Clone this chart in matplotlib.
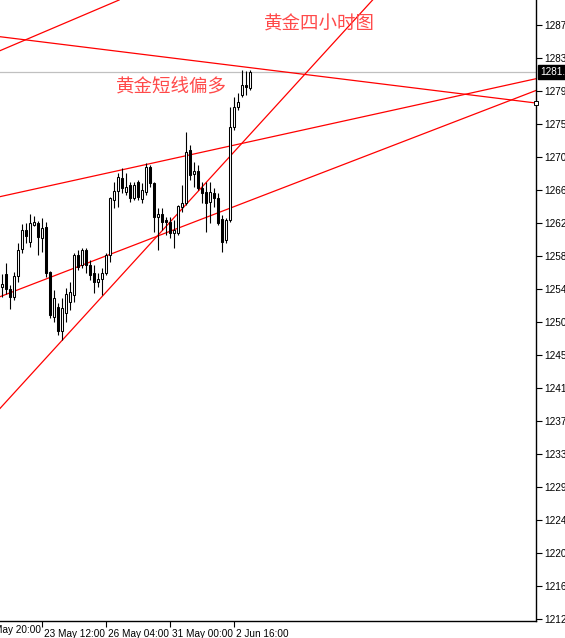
import matplotlib
matplotlib.use('Agg')
import numpy as np
import matplotlib.pyplot as plt
import matplotlib.transforms as mtransforms
from matplotlib.patches import Rectangle

# 4H gold candles (one bar every 4 hours)
opens = [1254.48, 1256.13, 1254.22, 1253.21, 1255.87, 1259.29, 1261.70, 1260.18, 1262.33, 1262.59,
         1260.68, 1262.08, 1256.38, 1250.68, 1251.95, 1248.91, 1251.19, 1252.58, 1253.47, 1258.53,
         1257.27, 1259.16, 1257.27, 1256.25, 1255.11, 1255.49, 1256.25, 1258.53, 1265.50, 1266.64,
         1268.28, 1266.51, 1267.40, 1265.75, 1267.78, 1265.62, 1266.51, 1269.68, 1267.65, 1263.35,
         1263.72, 1262.96, 1262.71, 1261.31, 1261.31, 1264.61, 1265.12, 1271.83, 1268.79, 1269.17,
         1267.02, 1266.51, 1265.24, 1266.38, 1265.75, 1263.09, 1260.43, 1262.96, 1274.74, 1277.28,
         1278.80, 1280.06, 1279.68]
highs = [1256.13, 1257.52, 1254.73, 1256.38, 1260.05, 1262.46, 1262.58, 1263.72, 1263.47, 1262.84,
         1263.22, 1262.71, 1256.50, 1254.10, 1252.45, 1253.09, 1254.35, 1255.11, 1258.79, 1259.16,
         1259.42, 1259.42, 1257.90, 1257.27, 1256.25, 1256.89, 1258.79, 1265.88, 1267.78, 1268.92,
         1269.55, 1268.92, 1267.78, 1267.78, 1268.03, 1267.65, 1270.18, 1269.93, 1267.78, 1264.48,
         1264.48, 1263.35, 1263.35, 1262.96, 1264.86, 1267.40, 1274.11, 1272.46, 1270.31, 1269.93,
         1267.78, 1267.78, 1267.78, 1267.02, 1266.38, 1263.60, 1263.22, 1277.28, 1278.54, 1279.05,
         1281.96, 1281.84, 1281.96]
lows = [1253.21, 1253.59, 1251.69, 1252.83, 1255.11, 1258.79, 1260.05, 1259.55, 1262.20, 1258.53,
        1258.91, 1255.75, 1250.55, 1250.05, 1248.40, 1247.77, 1250.05, 1251.57, 1252.58, 1256.63,
        1256.89, 1256.25, 1255.37, 1253.72, 1254.48, 1253.47, 1256.00, 1257.65, 1264.48, 1264.61,
        1266.38, 1266.13, 1265.24, 1265.50, 1265.50, 1265.12, 1266.13, 1267.14, 1261.44, 1259.16,
        1261.70, 1261.06, 1260.68, 1259.42, 1261.06, 1263.97, 1264.86, 1268.03, 1267.14, 1266.76,
        1265.12, 1261.44, 1262.59, 1264.61, 1262.33, 1258.91, 1260.05, 1262.71, 1274.36, 1276.90,
        1278.54, 1278.80, 1279.43]
closes = [1254.86, 1254.22, 1253.21, 1255.87, 1259.16, 1261.70, 1260.94, 1262.59, 1262.71, 1260.81,
          1261.95, 1256.25, 1250.93, 1253.09, 1248.91, 1251.82, 1253.59, 1253.85, 1258.53, 1257.01,
          1259.16, 1257.27, 1256.00, 1255.11, 1255.49, 1256.25, 1258.53, 1265.75, 1266.64, 1268.41,
          1267.02, 1267.14, 1265.75, 1267.40, 1265.88, 1266.76, 1269.68, 1267.65, 1263.35, 1263.72,
          1262.71, 1262.71, 1261.31, 1261.70, 1264.73, 1265.12, 1271.57, 1268.66, 1269.17, 1267.02,
          1266.38, 1265.12, 1266.51, 1265.75, 1262.59, 1260.18, 1262.96, 1274.74, 1277.28, 1277.91,
          1280.06, 1279.81, 1281.71]

last_price = 1281.71

# trend lines drawn on the chart: (bar, price) -> (bar, price)
trend_lines = [
    ((-0.575, 1284.41), (24.425, 1289.80)),
    ((-0.575, 1286.18), (133.425, 1277.78)),
    ((24.425, 1252.98), (74.425, 1280.75)),
    ((-0.575, 1265.92), (133.425, 1280.86)),
    ((-0.575, 1253.25), (133.425, 1279.37)),
]

price_ticks = [1287.66 - 4.18 * k for k in range(19)]
time_bars = [-6, 10, 26, 42, 58]
time_labels = ['22 May 20:00', '23 May 12:00', '26 May 04:00', '31 May 00:00', '2 Jun 16:00']

tick_font = ['Liberation Sans Narrow', 'Liberation Sans', 'DejaVu Sans']

W, H = 565, 638
fig = plt.figure(figsize=(W / 100, H / 100), dpi=100)
ax = fig.add_axes([0, 17 / H, 536 / W, 1 - 17 / H])
ax.set_xlim(-0.575, 133.425)
ax.set_ylim(1212.17, 1290.83)

red = '#ff0000'
for p1, p2 in trend_lines:
    ax.axline(p1, p2, color=red, lw=0.9, zorder=2)
ax.plot([133.425], [1277.78], marker='s', ms=3.5, mfc='white', mec='black', mew=0.7,
        clip_on=False, zorder=5)

ax.axhline(last_price, color='#c0c0c0', lw=0.9, zorder=1)

# candles
for i in range(len(opens)):
    o, h, l, c = opens[i], highs[i], lows[i], closes[i]
    ax.plot([i, i], [l, h], color='black', lw=0.8, zorder=3, solid_capstyle='butt')
    lo, hi = min(o, c), max(o, c)
    fc = 'white' if c >= o else 'black'
    ax.add_patch(Rectangle((i - 0.28, lo), 0.56, max(hi - lo, 0.08), facecolor=fc,
                           edgecolor='black', lw=0.75, zorder=4))

for s in ['left', 'top']:
    ax.spines[s].set_visible(False)
for s in ['right', 'bottom']:
    ax.spines[s].set_linewidth(1.0)

ax.yaxis.tick_right()
ax.set_yticks(price_ticks)
ax.set_yticklabels([f'{v:.2f}' for v in price_ticks], family=tick_font)
ax.tick_params(axis='y', direction='out', length=4, width=0.8, pad=2, labelsize=7.2)

ax.set_xticks(time_bars[1:])
ax.set_xticklabels(time_labels[1:], family=tick_font)
ax.tick_params(axis='x', direction='out', length=4, width=0.8, pad=1.5, labelsize=7.2)
shift = mtransforms.ScaledTranslation(2 / 100, 0, fig.dpi_scale_trans)
for lab in ax.get_xticklabels():
    lab.set_ha('left')
    lab.set_transform(lab.get_transform() + shift)
ax.text(time_bars[0], -0.006, time_labels[0], transform=ax.get_xaxis_transform() + shift,
        ha='left', va='top', fontsize=7.2, family=tick_font, clip_on=False)

# current price tag
ax.annotate(f'{last_price:.2f}', xy=(1, last_price), xycoords=('axes fraction', 'data'),
            xytext=(3, 0), textcoords='offset points', ha='left', va='center',
            fontsize=7.2, family=tick_font, color='white', annotation_clip=False,
            bbox=dict(boxstyle='square,pad=0.2', fc='black', ec='black'))

cjk = ['Noto Sans CJK SC', 'DejaVu Sans']
ax.text(264 / 536, 1 - 25 / 621, '黄金四小时图', transform=ax.transAxes, family=cjk,
        fontsize=13.3, color='#ff4a4a', ha='left', va='center')
ax.text(116 / 536, 1 - 87 / 621, '黄金短线偏多', transform=ax.transAxes, family=cjk,
        fontsize=13.3, color='#ff4a4a', ha='left', va='center')

fig.savefig('out.png', dpi=100)
